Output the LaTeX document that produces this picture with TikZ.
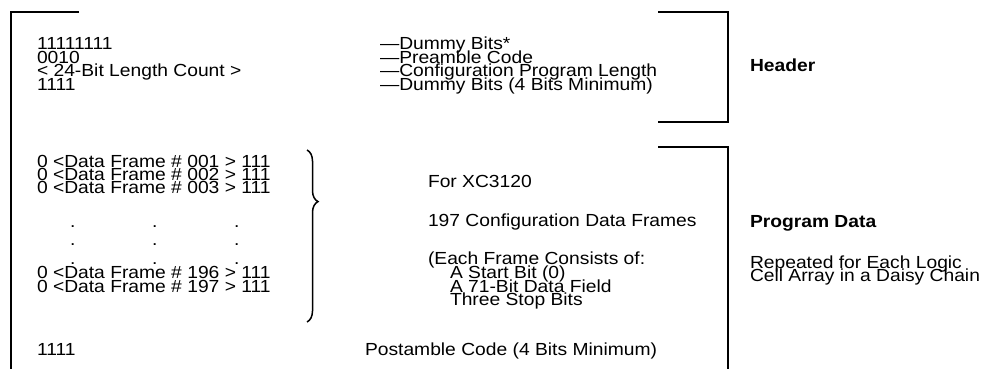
\documentclass[tikz,border=0pt]{standalone}
\usepackage{fontspec}
\setmainfont{Liberation Sans}
\usetikzlibrary{decorations.pathreplacing}
\begin{document}
\begin{tikzpicture}[x=1pt,y=-1pt,
  txt/.style={anchor=base west,inner sep=0pt,outer sep=0pt,xscale=1.1,font=\fontsize{17.5}{13.3}\selectfont},
  bold/.style={txt,font=\fontsize{17.5}{13.3}\selectfont\bfseries},
  rule/.style={line width=2pt,line cap=butt}]
\useasboundingbox (0,0) rectangle (985,369);
\fill[white] (0,0) rectangle (985,369);
% brackets
\coordinate (la) at (79,12);
\coordinate (lb) at (11,12);
\coordinate (lc) at (11,369);
\draw[rule] (la) -- (lb) -- (lc);
\coordinate (ha) at (658,12);
\coordinate (hb) at (728,12);
\coordinate (hc) at (728,122);
\coordinate (hd) at (658,122);
\draw[rule] (ha) -- (hb) -- (hc) -- (hd);
\coordinate (pa) at (658,147);
\coordinate (pb) at (728,147);
\coordinate (pc) at (728,369);
\draw[rule] (pa) -- (pb) -- (pc);
% header
\node[txt] (h1) at (37,50) {11111111};
\node[txt] (h2) at (37,63.3) {0010};
\node[txt] (h3) at (37,76.7) {< 24-Bit Length Count >};
\node[txt] (h4) at (37,90) {1111};
\node[txt] (d1) at (380,50) {—Dummy Bits*};
\node[txt] (d2) at (380,63.3) {—Preamble Code};
\node[txt] (d3) at (380,76.7) {—Configuration Program Length};
\node[txt] (d4) at (380,90) {—Dummy Bits (4 Bits Minimum)};
\node[bold] (hdr) at (750,71) {Header};
% data frames
\node[txt] (f1) at (37,167) {0 <Data Frame \# 001 > 111};
\node[txt] (f2) at (37,180.3) {0 <Data Frame \# 002 > 111};
\node[txt] (f3) at (37,193.7) {0 <Data Frame \# 003 > 111};
\foreach \yy/\nm in {227/a,245.5/b,264/c}{
  \node[txt] (dot\nm1) at (70,\yy) {.};
  \node[txt] (dot\nm2) at (152,\yy) {.};
  \node[txt] (dot\nm3) at (234,\yy) {.};
}
\node[txt] (f196) at (37,278.5) {0 <Data Frame \# 196 > 111};
\node[txt] (f197) at (37,292) {0 <Data Frame \# 197 > 111};
\node[txt] (post1) at (37,355) {1111};
% brace
\coordinate (bt) at (307,150);
\coordinate (bb) at (307,322);
\draw[line width=1.5pt,decorate,decoration={brace,amplitude=11pt,aspect=0.3}] (bt) -- (bb);
% middle column
\node[txt] (m1) at (428,187) {For XC3120};
\node[txt] (m2) at (428,226) {197 Configuration Data Frames};
\node[txt] (m3) at (428,264.5) {(Each Frame Consists of:};
\node[txt] (m4) at (450,278.5) {A Start Bit (0)};
\node[txt] (m5) at (450,292) {A 71-Bit Data Field};
\node[txt] (m6) at (450,305.5) {Three Stop Bits};
\node[txt] (post2) at (365,355) {Postamble Code (4 Bits Minimum)};
% right column
\node[bold] (pd) at (750,227) {Program Data};
\node[txt] (r1) at (750,268) {Repeated for Each Logic};
\node[txt] (r2) at (750,281.3) {Cell Array in a Daisy Chain};
\end{tikzpicture}
\end{document}
